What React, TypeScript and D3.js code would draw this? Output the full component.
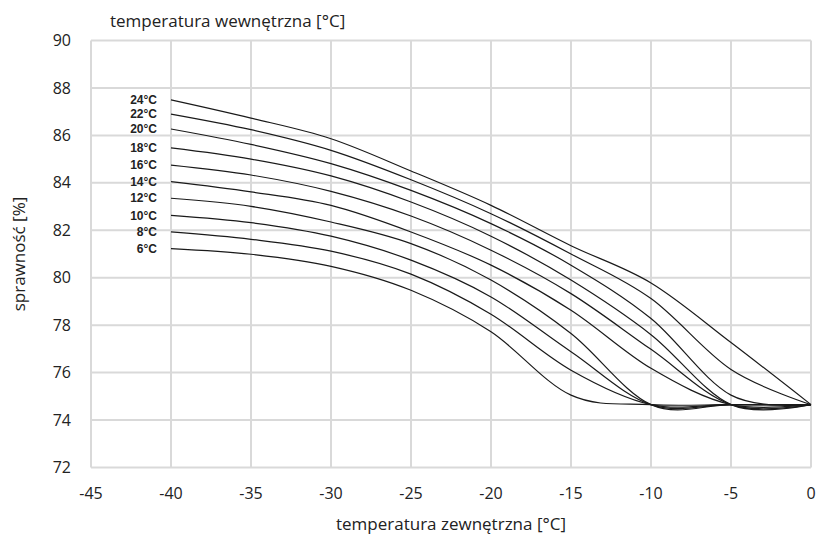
import React, { useRef, useEffect } from "react";
import * as d3 from "d3";

// outdoor temperature points (x)
const outdoorTemps = [-40, -35, -30, -25, -20, -15, -10, -5, 0];

// indoor temperature curves, efficiency [%]
const t24 = [87.5, 86.73, 85.86, 84.5, 83.05, 81.35, 79.78, 77.27, 74.65];
const t22 = [86.9, 86.24, 85.37, 84.13, 82.7, 81.0, 79.12, 76.13, 74.65];
const t20 = [86.27, 85.62, 84.81, 83.68, 82.28, 80.53, 78.28, 75.05, 74.65];
const t18 = [85.47, 85.0, 84.29, 83.19, 81.75, 79.9, 77.6, 74.65, 74.65];
const t16 = [84.75, 84.33, 83.64, 82.6, 81.16, 79.33, 76.98, 74.65, 74.65];
const t14 = [84.05, 83.62, 83.05, 81.93, 80.53, 78.63, 76.18, 74.65, 74.65];
const t12 = [83.35, 83.01, 82.35, 81.44, 79.9, 77.65, 74.65, 74.65, 74.65];
const t10 = [82.63, 82.32, 81.75, 80.74, 79.19, 76.88, 74.65, 74.65, 74.65];
const t8 = [81.93, 81.62, 81.12, 80.15, 78.46, 76.1, 74.65, 74.65, 74.65];
const t6 = [81.23, 80.99, 80.48, 79.47, 77.72, 75.05, 74.65, 74.65, 74.65];

const seriesLabels = ["24", "22", "20", "18", "16", "14", "12", "10", "8", "6"];
const seriesValues = [t24, t22, t20, t18, t16, t14, t12, t10, t8, t6];

const xTicks = [-45, -40, -35, -30, -25, -20, -15, -10, -5, 0];
const yTicks = [72, 74, 76, 78, 80, 82, 84, 86, 88, 90];

const FONT = "'Open Sans', 'Noto Sans', sans-serif";
const LABEL_FONT = "'Liberation Sans', Arial, sans-serif";

export default function App() {
  const ref = useRef<SVGSVGElement>(null);

  useEffect(() => {
    document.body.style.margin = "0";
    const svg = d3.select(ref.current);
    svg.selectAll("*").remove();

    const left = 91;
    const right = 811;
    const top = 40.5;
    const bottom = 467.5;

    const x = d3.scaleLinear().domain([-45, 0]).range([left, right]);
    const y = d3.scaleLinear().domain([72, 90]).range([bottom, top]);

    // grid
    const grid = svg.append("g");
    grid
      .selectAll("line.v")
      .data(xTicks)
      .join("line")
      .attr("class", "v")
      .attr("x1", (d) => x(d))
      .attr("x2", (d) => x(d))
      .attr("y1", top)
      .attr("y2", bottom)
      .attr("stroke", "#d9d9d9")
      .attr("stroke-width", 2);
    grid
      .selectAll("line.h")
      .data(yTicks)
      .join("line")
      .attr("class", "h")
      .attr("x1", left)
      .attr("x2", right)
      .attr("y1", (d) => y(d))
      .attr("y2", (d) => y(d))
      .attr("stroke", "#d9d9d9")
      .attr("stroke-width", 2);

    // tick labels
    svg
      .append("g")
      .selectAll("text")
      .data(yTicks)
      .join("text")
      .attr("x", 71)
      .attr("y", (d) => y(d))
      .attr("dy", "0.35em")
      .attr("text-anchor", "end")
      .style("font-family", FONT)
      .style("font-size", "16px")
      .style("fill", "#222")
      .text((d) => d);

    svg
      .append("g")
      .selectAll("text")
      .data(xTicks)
      .join("text")
      .attr("x", (d) => x(d))
      .attr("y", 493)
      .attr("dy", "0.35em")
      .attr("text-anchor", "middle")
      .style("font-family", FONT)
      .style("font-size", "16px")
      .style("fill", "#222")
      .text((d) => d);

    // curves
    const line = d3
      .line<number>()
      .x((_, i) => x(outdoorTemps[i]))
      .y((d) => y(d))
      .curve(d3.curveCardinal.tension(0));

    svg
      .append("g")
      .selectAll("path")
      .data(seriesValues)
      .join("path")
      .attr("d", (d) => line(d))
      .attr("fill", "none")
      .attr("stroke", "#1a1a1a")
      .attr("stroke-width", 1.2);

    // curve labels
    svg
      .append("g")
      .selectAll("text")
      .data(seriesValues)
      .join("text")
      .attr("x", 157)
      .attr("y", (d) => y(d[0]))
      .attr("dy", "0.35em")
      .attr("text-anchor", "end")
      .style("font-family", LABEL_FONT)
      .style("font-size", "12px")
      .style("font-weight", 700)
      .style("fill", "#222")
      .text((_, i) => `${seriesLabels[i]}°C`);

    // titles
    svg
      .append("text")
      .attr("x", 110)
      .attr("y", 27)
      .style("font-family", FONT)
      .style("font-size", "17px")
      .style("fill", "#222")
      .text("temperatura wewnętrzna [°C]");

    svg
      .append("text")
      .attr("x", (left + right) / 2)
      .attr("y", 530)
      .attr("text-anchor", "middle")
      .style("font-family", FONT)
      .style("font-size", "17px")
      .style("fill", "#222")
      .text("temperatura zewnętrzna [°C]");

    svg
      .append("text")
      .attr("transform", `translate(25,${(top + bottom) / 2}) rotate(-90)`)
      .attr("text-anchor", "middle")
      .style("font-family", FONT)
      .style("font-size", "17px")
      .style("fill", "#222")
      .text("sprawność [%]");
  }, []);

  return (
    <svg
      ref={ref}
      width={817}
      height={534}
      style={{ display: "block", background: "#fff" }}
    />
  );
}
